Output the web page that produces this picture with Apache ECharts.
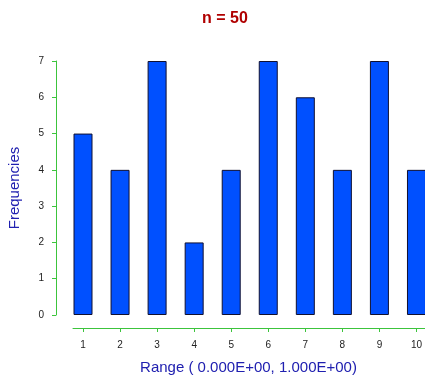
<!DOCTYPE html>
<html>
<head>
<meta charset="utf-8">
<script src="https://cdn.jsdelivr.net/npm/echarts@6/dist/echarts.min.js"></script>
<style>
  html, body { margin: 0; padding: 0; background: #fff; }
  #chart { width: 425px; height: 378px; }
</style>
</head>
<body>
<div id="chart"></div>
<script>
// bins and their counts
const bins = [1, 2, 3, 4, 5, 6, 7, 8, 9, 10]
const counts = [5, 4, 7, 2, 4, 7, 6, 4, 7, 4]
const yTicks = [0, 1, 2, 3, 4, 5, 6, 7]

const myChart = echarts.init(document.getElementById('chart'))

const axisGreen = '#3cc43c'

myChart.setOption({
  animation: false,
  title: {
    text: 'n = 50',
    left: 220,
    top: 6,
    textAlign: 'center',
    textStyle: { color: '#b00000', fontSize: 16, fontWeight: 'bold', fontFamily: 'Liberation Sans' },
  },
  grid: { left: 73, right: -10, top: 61, bottom: 63, containLabel: false, outerBoundsMode: 'none' },
  xAxis: {
    type: 'value',
    min: 0.73,
    max: 10.5,
    offset: 13,
    name: 'Range ( 0.000E+00, 1.000E+00)',
    nameLocation: 'middle',
    nameGap: 32,
    // 右侧 padding 让标题略向左偏
    nameTextStyle: { color: '#2020b0', fontSize: 15, fontFamily: 'Liberation Sans', padding: [0, 11, 0, 0] },
    axisLine: { show: true, onZero: false, lineStyle: { color: axisGreen, width: 1 } },
    axisTick: { show: true, length: 4, customValues: bins, lineStyle: { color: axisGreen } },
    axisLabel: { customValues: bins, margin: 12, color: '#222', fontSize: 10, fontFamily: 'Liberation Sans' },
    splitLine: { show: false },
  },
  yAxis: {
    type: 'value',
    min: 0,
    max: 7,
    interval: 1,
    offset: 17,
    name: 'Frequencies',
    nameLocation: 'middle',
    nameGap: 34,
    nameTextStyle: { color: '#2020b0', fontSize: 15, fontFamily: 'Liberation Sans' },
    axisLine: { show: true, onZero: false, lineStyle: { color: axisGreen, width: 1 } },
    axisTick: { show: true, length: 4, lineStyle: { color: axisGreen } },
    axisLabel: {
      margin: 12,
      color: '#222',
      fontSize: 10,
      fontFamily: 'Liberation Sans',
      formatter: v => (yTicks.includes(v) ? String(v) : ''),
    },
    splitLine: { show: false },
  },
  series: [
    {
      type: 'bar',
      barWidth: 19,
      data: bins.map((b, i) => [b, counts[i]]),
      itemStyle: { color: '#0050ff', borderColor: '#101030', borderWidth: 1 },
    },
  ],
})
</script>
</body>
</html>
